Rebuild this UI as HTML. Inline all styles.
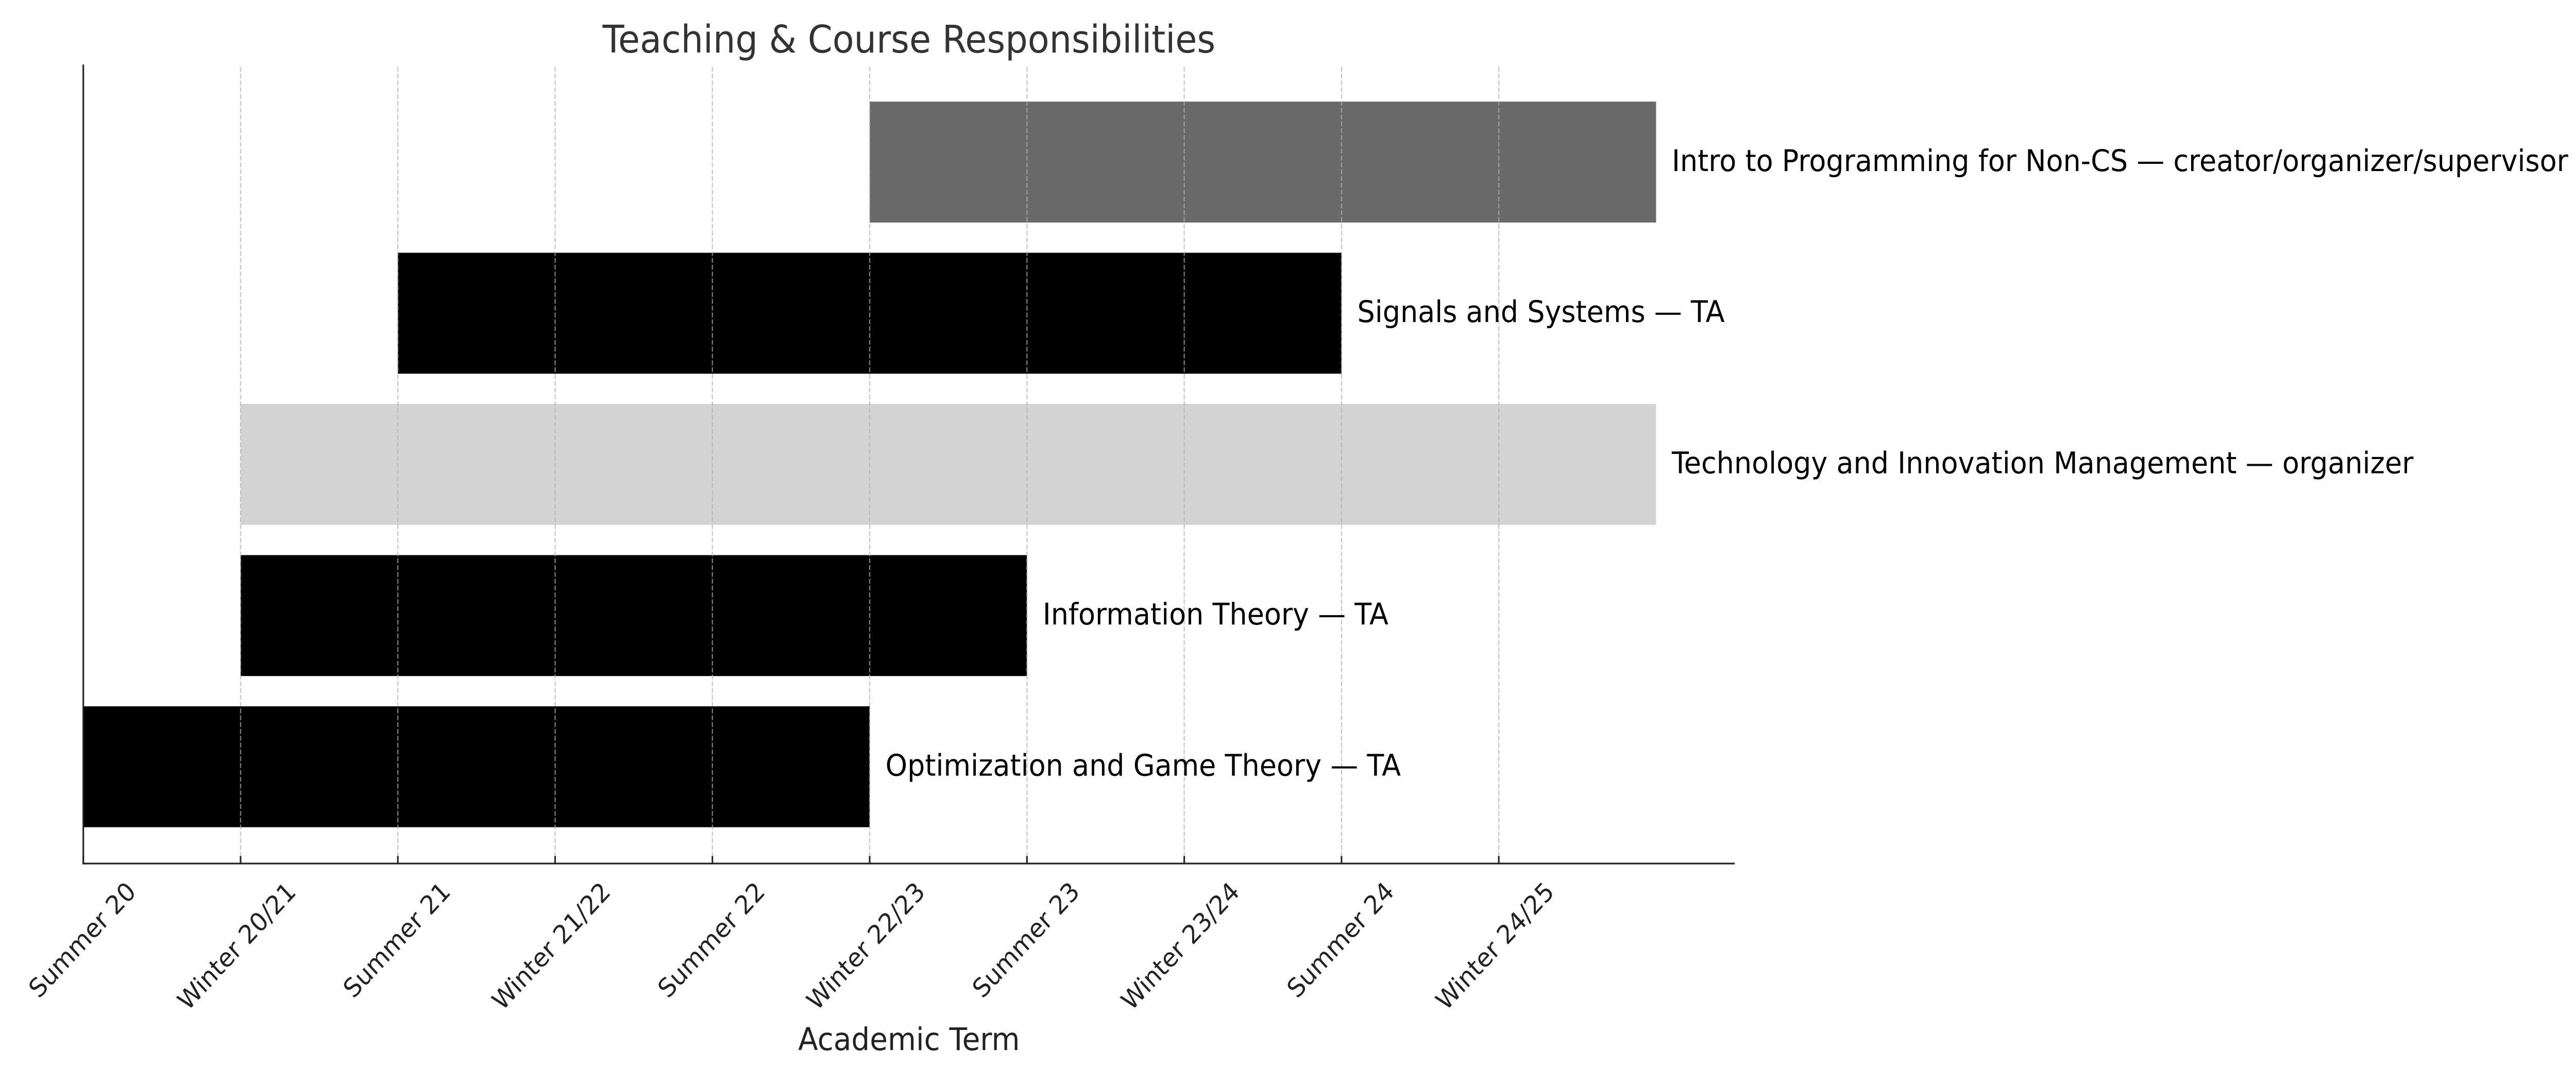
<!DOCTYPE html>
<html>
<head>
<meta charset="utf-8">
<meta name="viewport" content="width=5400, initial-scale=1">
<style>
  html, body { margin: 0; padding: 0; background: #ffffff; overflow: hidden; width: 100%; height: 100%; }
  svg { display: block; width: 100vw; height: 100vh; }
  text { font-family: "DejaVu Sans", "Liberation Sans", sans-serif; }
</style>
</head>
<body>
<svg viewBox="0 0 5400 2100" preserveAspectRatio="none" xmlns="http://www.w3.org/2000/svg">
  <rect x="0" y="0" width="5400" height="2100" fill="#ffffff"/>

  <!-- Title -->
  <text x="1905.5" y="102" font-size="74" fill="#333333" text-anchor="middle">Teaching &amp; Course Responsibilities</text>

  <!-- Bars -->
  <rect x="174.6" y="1370.8" width="1648.5" height="234.7" fill="#000000"/>
  <rect x="504.3" y="1077.4" width="1648.5" height="234.7" fill="#000000"/>
  <rect x="504.3" y="784.0" width="2967.3" height="234.7" fill="#d3d3d3"/>
  <rect x="834.0" y="490.6" width="1978.2" height="234.7" fill="#000000"/>
  <rect x="1823.1" y="197.2" width="1648.5" height="234.7" fill="#696969"/>

  <!-- Gridlines (drawn above bars) -->
  <g stroke="#b0b0b0" stroke-opacity="0.7" stroke-width="2.5" stroke-dasharray="9.25 4">
    <line x1="504.3" y1="1676" x2="504.3" y2="126.8"/>
    <line x1="834.0" y1="1676" x2="834.0" y2="126.8"/>
    <line x1="1163.7" y1="1676" x2="1163.7" y2="126.8"/>
    <line x1="1493.4" y1="1676" x2="1493.4" y2="126.8"/>
    <line x1="1823.1" y1="1676" x2="1823.1" y2="126.8"/>
    <line x1="2152.8" y1="1676" x2="2152.8" y2="126.8"/>
    <line x1="2482.5" y1="1676" x2="2482.5" y2="126.8"/>
    <line x1="2812.2" y1="1676" x2="2812.2" y2="126.8"/>
    <line x1="3141.9" y1="1676" x2="3141.9" y2="126.8"/>
  </g>

  <!-- Bar labels -->
  <g font-size="58.3" fill="#000000">
    <text x="3504.6" y="331.8">Intro to Programming for Non-CS — creator/organizer/supervisor</text>
    <text x="2845.2" y="625.2">Signals and Systems — TA</text>
    <text x="3504.6" y="918.6">Technology and Innovation Management — organizer</text>
    <text x="2185.8" y="1212.0">Information Theory — TA</text>
    <text x="1856.1" y="1505.4">Optimization and Game Theory — TA</text>
  </g>

  <!-- Ticks (inward) -->
  <g stroke="#222222" stroke-width="3.33">
    <line x1="174.6" y1="1676" x2="174.6" y2="1661.4"/>
    <line x1="504.3" y1="1676" x2="504.3" y2="1661.4"/>
    <line x1="834.0" y1="1676" x2="834.0" y2="1661.4"/>
    <line x1="1163.7" y1="1676" x2="1163.7" y2="1661.4"/>
    <line x1="1493.4" y1="1676" x2="1493.4" y2="1661.4"/>
    <line x1="1823.1" y1="1676" x2="1823.1" y2="1661.4"/>
    <line x1="2152.8" y1="1676" x2="2152.8" y2="1661.4"/>
    <line x1="2482.5" y1="1676" x2="2482.5" y2="1661.4"/>
    <line x1="2812.2" y1="1676" x2="2812.2" y2="1661.4"/>
    <line x1="3141.9" y1="1676" x2="3141.9" y2="1661.4"/>
  </g>

  <!-- Spines -->
  <line x1="174.6" y1="125.2" x2="174.6" y2="1677.7" stroke="#222222" stroke-width="3.33"/>
  <line x1="172.9" y1="1676" x2="3636.5" y2="1676" stroke="#222222" stroke-width="3.33"/>

  <!-- Tick labels -->
  <g font-size="50" fill="#222222" text-anchor="middle">
    <text transform="translate(184.6,1836.4) rotate(-45)">Summer 20</text>
    <text transform="translate(508.3,1848.5) rotate(-45)">Winter 20/21</text>
    <text transform="translate(844.0,1836.4) rotate(-45)">Summer 21</text>
    <text transform="translate(1167.7,1848.5) rotate(-45)">Winter 21/22</text>
    <text transform="translate(1503.4,1836.4) rotate(-45)">Summer 22</text>
    <text transform="translate(1827.1,1848.5) rotate(-45)">Winter 22/23</text>
    <text transform="translate(2162.8,1836.4) rotate(-45)">Summer 23</text>
    <text transform="translate(2486.5,1848.5) rotate(-45)">Winter 23/24</text>
    <text transform="translate(2822.2,1836.4) rotate(-45)">Summer 24</text>
    <text transform="translate(3145.9,1848.5) rotate(-45)">Winter 24/25</text>
  </g>

  <!-- X axis label -->
  <text x="1905.5" y="2038" font-size="61" fill="#222222" text-anchor="middle">Academic Term</text>
</svg>
</body>
</html>
